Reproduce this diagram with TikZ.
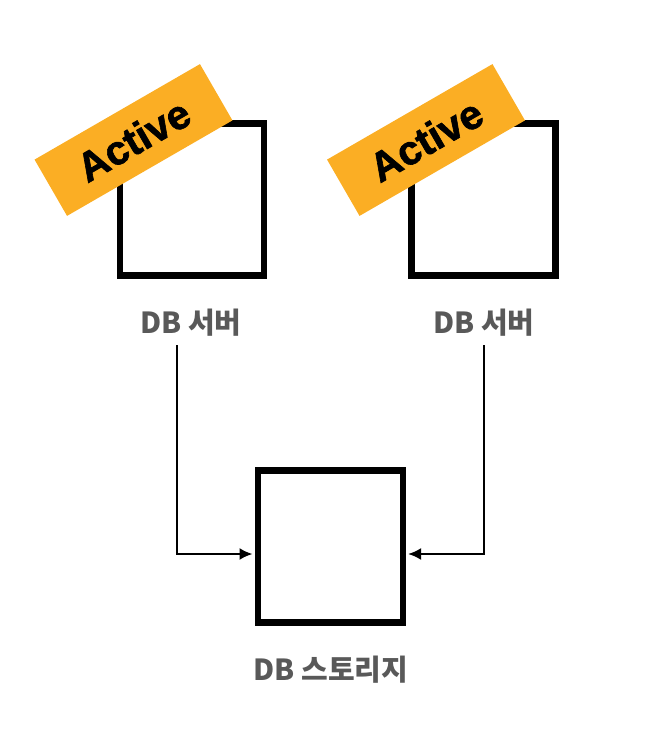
\documentclass[tikz,border=0pt]{standalone}
\usepackage{fontspec}
\usetikzlibrary{arrows.meta}
\newfontfamily\kr{Noto Sans CJK KR}
\newfontfamily\lat{Liberation Sans}[BoldFeatures={FakeBold=1.5}]
\definecolor{banner}{HTML}{FBAE24}
\definecolor{lbl}{HTML}{595959}
\begin{document}
\begin{tikzpicture}[x=1pt,y=-1pt,
  srvbox/.style={draw=black,line width=6.5pt,inner sep=0pt,minimum width=144pt,minimum height=152pt,fill=white},
  stbox/.style={draw=black,line width=6.5pt,inner sep=0pt,minimum width=145pt,minimum height=152pt,fill=white},
  tag/.style={fill=banner,rotate=30,minimum width=191pt,minimum height=65pt,inner sep=0pt,font=\lat\bfseries\fontsize{41}{41}\selectfont,text=black},
  caption/.style={font=\kr\bfseries\fontsize{29}{29}\selectfont,text=lbl,inner sep=0pt},
  conn/.style={line width=2.2pt,-{Latex[length=13pt,width=12pt]}}
]
\useasboundingbox (0,0) rectangle (664,746);
\node[srvbox] (s1) at (192,199.3) {};
\node[srvbox] (s2) at (483.7,199.3) {};
\node[stbox] (st) at (330.3,546.5) {};
\node[tag] (t1) at (133.5,140) {Active};
\node[tag] (t2) at (426,140) {Active};
\node[caption] (l1) at (191,323) {DB 서버};
\node[caption] (l2) at (484,323) {DB 서버};
\node[caption] (l3) at (331,670) {DB 스토리지};
\coordinate (a1) at (177,345);
\coordinate (b1) at (177,554);
\coordinate (a2) at (484,345);
\coordinate (b2) at (484,554);
\draw[conn] (a1) -- (b1) -- ([xshift=-2pt]st.west |- b1);
\draw[conn] (a2) -- (b2) -- ([xshift=2pt]st.east |- b2);
\end{tikzpicture}
\end{document}
